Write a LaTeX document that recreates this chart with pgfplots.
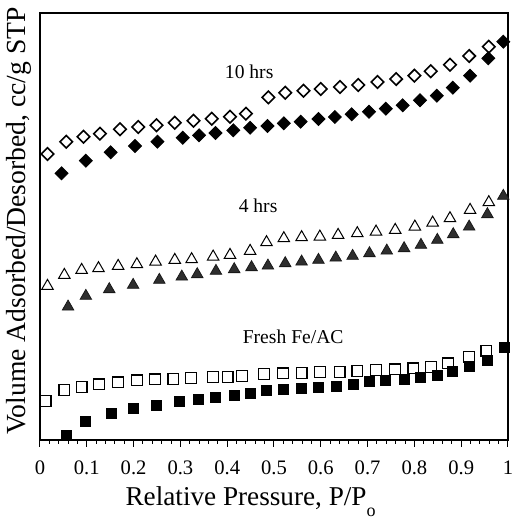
\documentclass[border=0pt]{standalone}
\usepackage{fontspec}
\setmainfont{Liberation Serif}
\usepackage{pgfplots}
\pgfplotsset{compat=1.18}
\begin{document}
\begin{tikzpicture}
\begin{axis}[
  scale only axis, width=234pt, height=213.5pt,
  xmin=0, xmax=1, ymin=0, ymax=427,
  xtick={0,0.1,...,1.0},
  xticklabels={0,0.1,0.2,0.3,0.4,0.5,0.6,0.7,0.8,0.9,1},
  minor x tick num=4,
  ytick=\empty,
  xtick pos=lower,
  tick align=outside,
  major tick length=3.3pt, minor tick length=1.8pt,
  every tick/.style={black, line width=0.5pt},
  axis line style={line width=0.7pt},
  /pgf/number format/assume math mode=true,
  xticklabel style={font=\fontsize{10.3}{12}\selectfont, anchor=base, yshift=-13.8pt},
  xlabel={Relative Pressure, P/P\raisebox{-5.5pt}{\fontsize{9}{10}\selectfont o}},
  ylabel={Volume Adsorbed/Desorbed, cc/g STP},
  xlabel style={font=\fontsize{13.6}{15}\selectfont, at={(axis description cs:0.45,0)}, anchor=base, yshift=-32.5pt, inner sep=0pt},
  ylabel style={font=\fontsize{13.8}{15}\selectfont, at={(axis description cs:-0.045,0.012)}, anchor=west, rotate=0, inner sep=0pt},
  clip=false,
]
% 10 hrs open diamonds
\addplot[only marks, mark=square, mark size=2.2pt, mark options={rotate=45, line width=0.8pt, fill=white, draw=black}] coordinates {
(0.016,286) (0.056,298.3) (0.093,303.3) (0.128,306.3) (0.171,310.7) (0.210,313) (0.249,314.7) (0.288,317.3) (0.328,319.3) (0.367,321.3) (0.406,323.3) (0.440,326.3) (0.488,342.7) (0.524,347.3) (0.563,349.3) (0.600,351) (0.641,353) (0.680,355) (0.721,358) (0.761,361) (0.800,364.3) (0.835,368.7) (0.876,375.3) (0.917,384) (0.959,393.3)};
% 10 hrs filled diamonds
\addplot[only marks, mark=square*, mark size=2.3pt, mark options={rotate=45, fill=black, draw=black}] coordinates {
(0.046,266.7) (0.098,279.3) (0.151,287.7) (0.203,294) (0.251,298.3) (0.305,302.3) (0.340,304.7) (0.375,307) (0.413,309.7) (0.449,312.3) (0.486,314) (0.521,316.7) (0.557,318.3) (0.595,321) (0.630,323) (0.666,325.7) (0.703,328.3) (0.739,331.3) (0.775,334.7) (0.812,339.7) (0.848,344.3) (0.882,352.3) (0.919,364.3) (0.958,381.7) (0.990,398.3)};
% 4 hrs open triangles
\addplot[only marks, mark=triangle, mark size=3.3pt, mark options={line width=0.5pt, draw=black, fill=white}] coordinates {
(0.016,154) (0.052,165) (0.089,170) (0.125,171.7) (0.167,174) (0.207,175.7) (0.247,178.3) (0.288,180) (0.324,180.7) (0.370,183.3) (0.406,185) (0.449,189) (0.484,197.7) (0.521,201.7) (0.559,202.7) (0.598,203.3) (0.637,205) (0.678,206.7) (0.718,208.3) (0.759,210) (0.801,213.3) (0.839,217.3) (0.876,221.7) (0.919,230) (0.959,237.7)};
% 4 hrs filled triangles
\addplot[only marks, mark=triangle*, mark size=3.3pt, mark options={draw=black!90, fill=black!82}] coordinates {
(0.060,133.3) (0.098,144) (0.148,150.7) (0.199,155) (0.255,160) (0.303,163.3) (0.336,165.7) (0.376,169) (0.415,170.7) (0.452,172.7) (0.487,174.3) (0.524,176.7) (0.559,178.3) (0.595,180) (0.632,182.3) (0.668,184) (0.704,186.7) (0.741,189.3) (0.778,191.7) (0.814,195) (0.849,200) (0.883,205.7) (0.917,213.3) (0.956,225.7) (0.990,244)};
% fresh open squares
\addplot[only marks, mark=square, mark size=2.7pt, mark options={line width=0.6pt, draw=black, fill=white}] coordinates {
(0.012,39) (0.052,50) (0.089,53.3) (0.126,55.7) (0.167,57.7) (0.207,59.7) (0.246,60.7) (0.285,61.3) (0.323,62.3) (0.370,63) (0.401,63.3) (0.431,64) (0.479,66) (0.519,66.7) (0.559,67.3) (0.598,68) (0.640,68.3) (0.678,69) (0.718,70) (0.759,70.7) (0.798,71.7) (0.835,73.3) (0.872,76.7) (0.917,83.3) (0.954,89.3)};
% fresh filled squares
\addplot[only marks, mark=square*, mark size=2.5pt, mark options={draw=black, fill=black}] coordinates {
(0.057,5) (0.098,19) (0.152,26.7) (0.199,31.7) (0.248,35) (0.298,38.3) (0.338,41) (0.375,43) (0.415,45) (0.449,46.7) (0.483,50) (0.520,50.7) (0.559,51.7) (0.595,52.7) (0.634,54) (0.669,55.7) (0.704,58.3) (0.739,59.3) (0.778,60.7) (0.813,62.7) (0.850,65) (0.882,69) (0.917,74) (0.956,80) (0.992,92.3)};
\node[font=\fontsize{9.8}{11}\selectfont] at (axis cs:0.447,368) {10 hrs};
\node[font=\fontsize{9.8}{11}\selectfont] at (axis cs:0.466,234) {4 hrs};
\node[font=\fontsize{9.8}{11}\selectfont] at (axis cs:0.541,103) {Fresh Fe/AC};
\end{axis}
\pgfresetboundingbox
\path[use as bounding box] ([shift={(-20pt,-40.5pt)}]current axis.south west) rectangle ([shift={(240.5pt,220pt)}]current axis.south west);
\end{tikzpicture}
\end{document}
